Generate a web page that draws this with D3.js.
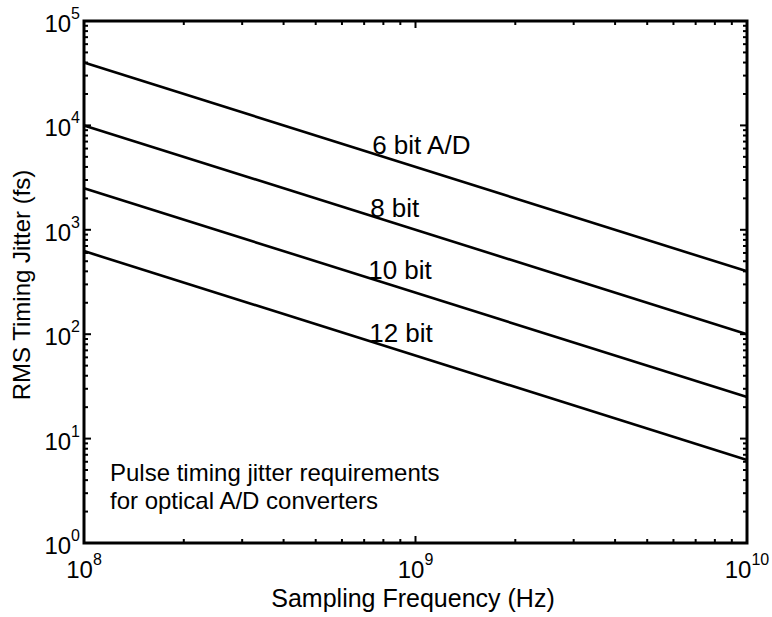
<!DOCTYPE html>
<html><head><meta charset="utf-8">
<script src="https://cdn.jsdelivr.net/npm/d3@7"></script>
<style>
body{margin:0;background:#fff;}
text{font-family:"Liberation Sans",Arial,Helvetica,sans-serif;fill:#000;}
</style></head>
<body><svg id="c" width="772" height="617"></svg>
<script>
const freqs = [1e8, 1e10];
const seriesNames = ["6 bit A/D", "8 bit", "10 bit", "12 bit"];
const jitter6 = [40000, 400];
const jitter8 = [10000, 100];
const jitter10 = [2500, 25];
const jitter12 = [625, 6.25];
const labelFreq = [7.4e8, 7.3e8, 7.2e8, 7.25e8];
const xTickExps = [8, 9, 10];
const yTickExps = [0, 1, 2, 3, 4, 5];
const annotation = ["Pulse timing jitter requirements", "for optical A/D converters"];

const series = [jitter6, jitter8, jitter10, jitter12];
const m = {l:84, t:21, r:747, b:543};
const svg = d3.select("#c");
const x = d3.scaleLog().domain([1e8,1e10]).range([m.l,m.r]);
const y = d3.scaleLog().domain([1,1e5]).range([m.b,m.t]);

// minor ticks
const xMinor=[], yMinor=[];
for(let e=8;e<10;e++) for(let k=2;k<=9;k++) xMinor.push(k*Math.pow(10,e));
for(let e=0;e<5;e++) for(let k=2;k<=9;k++) yMinor.push(k*Math.pow(10,e));
const g = svg.append("g").attr("stroke","#000").attr("stroke-width",2);
xMinor.forEach(v=>{
  g.append("line").attr("x1",x(v)).attr("x2",x(v)).attr("y1",m.b).attr("y2",m.b-4);
  g.append("line").attr("x1",x(v)).attr("x2",x(v)).attr("y1",m.t).attr("y2",m.t+4);
});
yMinor.forEach(v=>{
  g.append("line").attr("y1",y(v)).attr("y2",y(v)).attr("x1",m.l).attr("x2",m.l+4);
  g.append("line").attr("y1",y(v)).attr("y2",y(v)).attr("x1",m.r).attr("x2",m.r-4);
});
xTickExps.forEach(e=>{const v=Math.pow(10,e);
  g.append("line").attr("x1",x(v)).attr("x2",x(v)).attr("y1",m.b).attr("y2",m.b-7);
  g.append("line").attr("x1",x(v)).attr("x2",x(v)).attr("y1",m.t).attr("y2",m.t+7);
});
yTickExps.forEach(e=>{const v=Math.pow(10,e);
  g.append("line").attr("y1",y(v)).attr("y2",y(v)).attr("x1",m.l).attr("x2",m.l+7);
  g.append("line").attr("y1",y(v)).attr("y2",y(v)).attr("x1",m.r).attr("x2",m.r-7);
});

// frame
svg.append("rect").attr("x",m.l).attr("y",m.t).attr("width",m.r-m.l).attr("height",m.b-m.t)
  .attr("fill","none").attr("stroke","#000").attr("stroke-width",3);

// lines
const line = d3.line().x((d,i)=>x(freqs[i])).y(d=>y(d));
series.forEach(s=>{
  svg.append("path").datum(s).attr("d",line).attr("fill","none").attr("stroke","#000").attr("stroke-width",2.6);
});
// series labels
series.forEach((s,i)=>{
  const f=labelFreq[i];
  const slope=(Math.log10(s[1])-Math.log10(s[0]))/(Math.log10(freqs[1])-Math.log10(freqs[0]));
  const val=Math.pow(10,Math.log10(s[0])+slope*(Math.log10(f)-Math.log10(freqs[0])));
  svg.append("text").attr("x",x(f)).attr("y",y(val)+1).attr("font-size",26).text(seriesNames[i]);
});

// x tick labels
xTickExps.forEach(e=>{
  const t=svg.append("text").attr("x",x(Math.pow(10,e))).attr("y",m.b+35).attr("text-anchor","middle").attr("font-size",24);
  t.append("tspan").text("10");
  t.append("tspan").attr("dy",-13).attr("font-size",16).text(e);
});
// y tick labels
yTickExps.forEach(e=>{
  const t=svg.append("text").attr("x",m.l-4).attr("y",y(Math.pow(10,e))+11).attr("text-anchor","end").attr("font-size",24);
  t.append("tspan").text("10");
  t.append("tspan").attr("dy",-13).attr("font-size",16).text(e);
});

svg.append("text").attr("x",413).attr("y",607).attr("text-anchor","middle").attr("font-size",25).text("Sampling Frequency (Hz)");
svg.append("text").attr("transform",`translate(30,285) rotate(-90)`).attr("text-anchor","middle").attr("font-size",24).text("RMS Timing Jitter (fs)");

annotation.forEach((a,i)=>{
  svg.append("text").attr("x",110).attr("y",481+i*28).attr("font-size",24).text(a);
});
</script></body></html>
